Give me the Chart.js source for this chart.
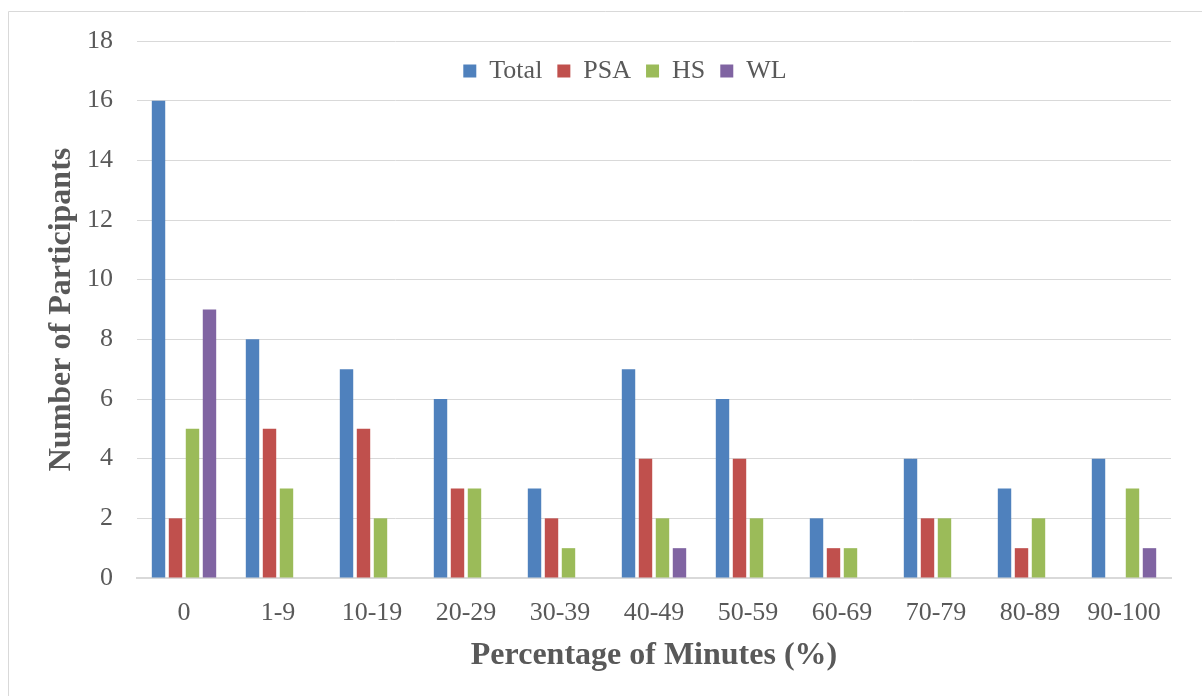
<!DOCTYPE html>
<html>
<head>
<meta charset="utf-8">
<script src="https://cdn.jsdelivr.net/npm/chart.js@4.4.1/dist/chart.umd.min.js"></script>
<style>
  html, body { margin: 0; padding: 0; background: #ffffff; }
  #wrap { position: absolute; left: 0; top: 0; width: 1202px; height: 696px; }
</style>
</head>
<body>
<div id="wrap"><canvas id="c" width="1202" height="696"></canvas></div>
<script>
// Minute-share bands
const categories = ['0', '1-9', '10-19', '20-29', '30-39', '40-49', '50-59', '60-69', '70-79', '80-89', '90-100'];

// Participants per band
const totalValues = [16, 8, 7, 6, 3, 7, 6, 2, 4, 3, 4];
const psaValues   = [2, 5, 5, 3, 2, 4, 4, 1, 2, 1, 0];
const hsValues    = [5, 3, 2, 3, 1, 2, 2, 1, 2, 2, 3];
const wlValues    = [9, 0, 0, 0, 0, 1, 0, 0, 0, 0, 1];

const seriesNames = ['Total', 'PSA', 'HS', 'WL'];
const yTicks = [0, 2, 4, 6, 8, 10, 12, 14, 16, 18];

const textColor = '#595959';
const gridColor = '#D9D9D9';
const fontFamily = '"Liberation Serif", "Times New Roman", serif';

// Thin frame around the whole figure
const framePlugin = {
  id: 'frame',
  beforeDraw(chart) {
    const ctx = chart.ctx;
    ctx.save();
    ctx.strokeStyle = gridColor;
    ctx.lineWidth = 1;
    ctx.beginPath();
    ctx.moveTo(8.5, chart.height);
    ctx.lineTo(8.5, 11.5);
    ctx.lineTo(chart.width, 11.5);
    ctx.stroke();
    ctx.restore();
  }
};

// Let the legend sit over the plot instead of taking space above it:
// it reports no height during layout, then gets its real box back for drawing,
// nudged a little right and down inside the plot.
const overlayLegend = {
  id: 'overlayLegend',
  beforeInit(chart) {
    const legend = chart.legend;
    if (!legend) return;
    const fit = legend.fit;
    legend.fit = function () {
      fit.call(this);
      this._fullHeight = this.height;
      this.height = 0;
    };
  },
  afterLayout(chart) {
    const legend = chart.legend;
    if (!legend || legend._fullHeight === undefined) return;
    legend.left += 18;
    legend.right += 18;
    legend.top += 2;
    legend.height = legend._fullHeight;
    legend.bottom = legend.top + legend.height;
  }
};

const colors = ['#4F81BD', '#C0504D', '#9BBB59', '#8064A2'];
const values = [totalValues, psaValues, hsValues, wlValues];

new Chart(document.getElementById('c'), {
  type: 'bar',
  data: {
    labels: categories,
    datasets: seriesNames.map((name, i) => ({
      label: name,
      data: values[i],
      backgroundColor: colors[i],
      borderWidth: 0,
      categoryPercentage: 0.723,
      barPercentage: 0.79
    }))
  },
  options: {
    responsive: false,
    animation: false,
    devicePixelRatio: 1,
    layout: { padding: { left: 43, right: 31, top: 41, bottom: 21 } },
    plugins: {
      tooltip: { enabled: false },
      legend: {
        position: 'top',
        align: 'center',
        labels: {
          boxWidth: 13,
          boxHeight: 13,
          padding: 15,
          color: textColor,
          font: { family: fontFamily, size: 26 }
        }
      }
    },
    scales: {
      x: {
        grid: { display: false, drawTicks: false },
        border: { display: true, color: gridColor, width: 2 },
        ticks: {
          color: textColor,
          padding: 20,
          maxRotation: 0,
          autoSkip: false,
          font: { family: fontFamily, size: 26 }
        },
        title: {
          display: true,
          text: 'Percentage of Minutes (%)',
          color: textColor,
          padding: { top: 0, bottom: 0 },
          font: { family: fontFamily, size: 32, weight: 'bold' }
        },
        afterFit(scale) { scale.height = 97; }
      },
      y: {
        min: 0,
        max: 18,
        afterBuildTicks(scale) { scale.ticks = yTicks.map(v => ({ value: v })); },
        grid: { color: gridColor, lineWidth: 1, drawTicks: false },
        border: { display: false },
        ticks: {
          color: textColor,
          padding: 24,
          font: { family: fontFamily, size: 26 }
        },
        title: {
          display: true,
          text: 'Number of Participants',
          color: textColor,
          padding: { top: 0, bottom: 0 },
          font: { family: fontFamily, size: 32, weight: 'bold' }
        },
        afterFit(scale) { scale.width = 94; }
      }
    }
  },
  plugins: [framePlugin, overlayLegend]
});
</script>
</body>
</html>
